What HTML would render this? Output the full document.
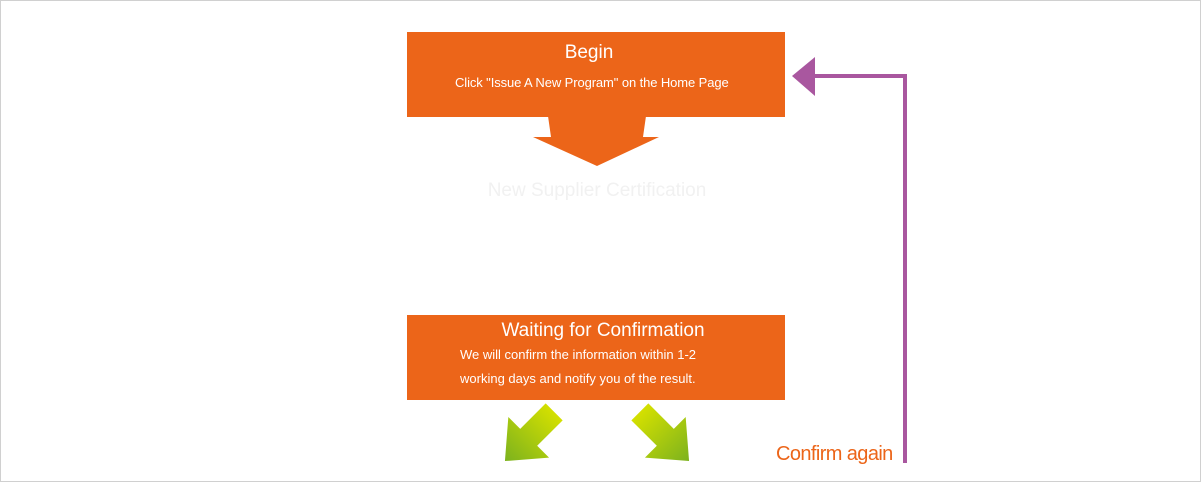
<!DOCTYPE html>
<html><head><meta charset="utf-8"><style>
html,body{margin:0;width:1201px;height:469px;overflow:hidden;background:#fff;font-family:"Liberation Sans",sans-serif}
.frame{position:absolute;left:0;top:0;width:1199px;height:480px;border:1px solid #d0d0d0}
.box{position:absolute;background:#ec6519;color:#fff}
</style></head><body>
<div class="frame"></div>
<div class="box" style="left:407px;top:32px;width:378px;height:85px">
<div style="position:absolute;left:0;width:364px;text-align:center;top:10px;font-size:19px">Begin</div>
<div style="position:absolute;left:455px;left:48px;top:43px;font-size:13px;letter-spacing:-0.1px">Click "Issue A New Program" on the Home Page</div>
</div>
<div class="box" style="left:407px;top:315px;width:378px;height:85px">
<div style="position:absolute;left:0;width:392px;text-align:center;top:5px;font-size:19px">Waiting for Confirmation</div>
<div style="position:absolute;left:53px;top:28px;font-size:13px;line-height:24px">We will confirm the information within 1-2<br>working days and notify you of the result.</div>
</div>
<div style="position:absolute;left:407px;top:180px;width:380px;text-align:center;color:#f1f1f1;font-size:19px">New Supplier Certification</div>
<svg width="1201" height="469" style="position:absolute;left:0;top:0">
<polygon points="548,116 646,116 643,137 659,137 597,166 533,137 551,137" fill="#ec6519"/>
<polyline points="905,463 905,76 814,76" fill="none" stroke="#a9579f" stroke-width="4"/>
<polygon points="792,76 815,57 815,96" fill="#a9579f"/>
<defs><linearGradient id="g" x1="0" y1="0" x2="0" y2="1"><stop offset="0" stop-color="#d4e000"/><stop offset="1" stop-color="#7cb21e"/></linearGradient></defs>
<g transform="translate(527,439) rotate(45) scale(1.2)"><polygon points="-10,-32 10,-32 10,-2 24,-2 0,26 -24,-2 -10,-2" fill="url(#g)"/></g>
<g transform="translate(667,439) rotate(-45) scale(1.2)"><polygon points="-10,-32 10,-32 10,-2 24,-2 0,26 -24,-2 -10,-2" fill="url(#g)"/></g>
</svg>
<div style="position:absolute;left:776px;top:443px;color:#ec6519;font-size:20px;letter-spacing:-0.6px">Confirm again</div>
</body></html>
